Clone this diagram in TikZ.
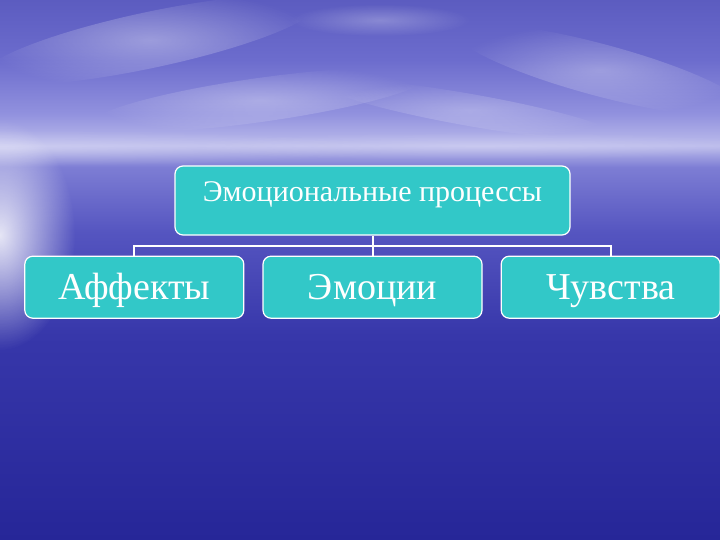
\documentclass[tikz,border=0pt]{standalone}
\usepackage{fontspec}
\setmainfont{Liberation Serif}
\usepackage{xcolor}
\usetikzlibrary{positioning,fadings}

\definecolor{boxteal}{RGB}{50,200,200}
\definecolor{skytop}{RGB}{92,92,192}
\definecolor{skymid}{RGB}{108,108,205}
\definecolor{skylow}{RGB}{145,145,222}
\definecolor{haze}{RGB}{188,188,236}
\definecolor{seanear}{RGB}{125,125,212}
\definecolor{seamid}{RGB}{85,85,192}
\definecolor{seadeep}{RGB}{55,55,170}
\definecolor{seabottom}{RGB}{38,38,152}

\pgfdeclareverticalshading{seasky}{100bp}{%
  color(0bp)=(seabottom); color(25bp)=(seabottom); color(44bp)=(seadeep);
  color(53.5bp)=(seamid); color(59.5bp)=(seanear); color(61.5bp)=(haze);
  color(64.5bp)=(skylow); color(69.5bp)=(skymid); color(75bp)=(skytop);
  color(100bp)=(skytop)}

\tikzfading[name=softedge, inner color=transparent!0, outer color=transparent!100]

\begin{document}
\begin{tikzpicture}[x=1pt, y=-1pt,
  topbox/.style={draw=white, line width=1.2pt, fill=boxteal, rounded corners=8pt,
    text=white, inner sep=0pt, minimum width=395pt,
    text height=36pt, text depth=33pt, font=\fontsize{30}{36}\selectfont},
  bigbox/.style={draw=white, line width=1.2pt, fill=boxteal, rounded corners=8pt,
    text=white, inner sep=0pt, minimum width=219pt, minimum height=62pt,
    text height=25pt, text depth=0pt, font=\fontsize{38}{44}\selectfont},
  link/.style={draw=white, line width=2pt},
  cloud/.style={fill=white, path fading=softedge}]
  \useasboundingbox (0,0) rectangle (720,540);

  % sky and sea
  \shade[shading=seasky] (0,0) rectangle (720,540);
  \fill[cloud, opacity=0.85] (0,235) ellipse (75 and 115);
  \fill[cloud, opacity=0.25] (0,148) ellipse (400 and 18);
  \fill[cloud, opacity=0.2] (480,146) ellipse (300 and 14);
  \fill[cloud, opacity=0.35, rotate around={12:(150,40)}] (150,40) ellipse (170 and 28);
  \fill[cloud, opacity=0.3, rotate around={8:(260,100)}] (260,100) ellipse (170 and 22);
  \fill[cloud, opacity=0.3, rotate around={-15:(600,70)}] (600,70) ellipse (150 and 26);
  \fill[cloud, opacity=0.25] (380,20) ellipse (90 and 16);
  \fill[cloud, opacity=0.25, rotate around={-10:(470,110)}] (470,110) ellipse (150 and 16);

  % boxes
  \node (process) [topbox] at (372.5,200.5) {Эмоциональные процессы};
  \node (emotions) [bigbox, below=20pt of process] {Эмоции};
  \node (affects) [bigbox, left=18pt of emotions] {Аффекты};
  \node (feelings) [bigbox, right=18pt of emotions] {Чувства};

  \draw[link] (process.south) -- (emotions.north);
  \draw[link] (affects.north) -- ++(0,-10) -| (feelings.north);
\end{tikzpicture}
\end{document}
